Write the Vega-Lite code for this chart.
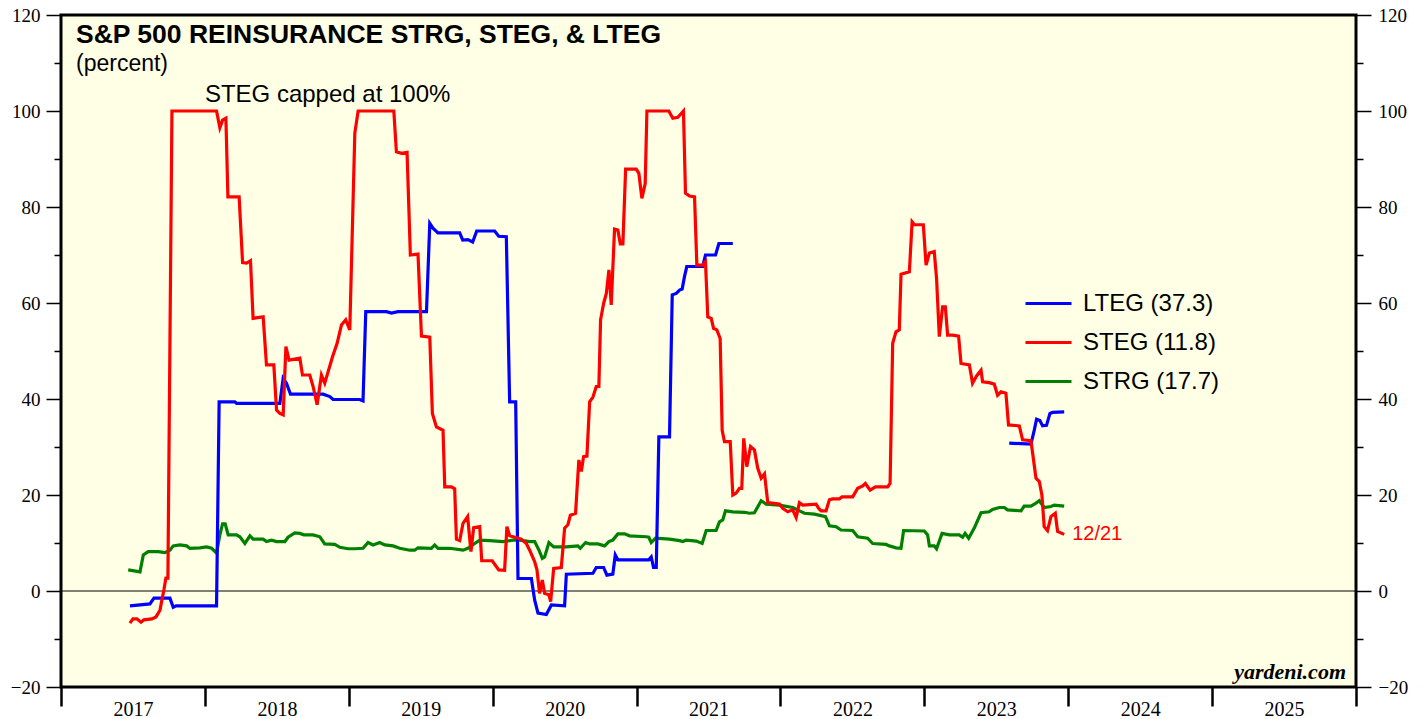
{
"$schema": "https://vega.github.io/schema/vega-lite/v6.json",
"width": 1295, "height": 672,
"autosize": {"type": "none"},
"padding": {"left": 61, "top": 15, "right": 69, "bottom": 32},
"background": "white",
"title": {"text": "S&P 500 REINSURANCE STRG, STEG, & LTEG", "subtitle": "(percent)", "anchor": "start", "frame": "group", "offset": -70, "dx": 15, "font": "Liberation Sans", "fontSize": 26.5, "fontWeight": "bold", "color": "black", "subtitleFont": "Liberation Sans", "subtitleFontSize": 23, "subtitleColor": "black", "subtitlePadding": 5},
"datasets": {
"steg": [{"t":2017.479,"v":-6.7},{"t":2017.500,"v":-5.8},{"t":2017.528,"v":-5.8},{"t":2017.556,"v":-6.5},{"t":2017.576,"v":-6.0},{"t":2017.632,"v":-5.8},{"t":2017.660,"v":-5.4},{"t":2017.688,"v":-4.0},{"t":2017.701,"v":-1.9},{"t":2017.715,"v":0.2},{"t":2017.729,"v":2.7},{"t":2017.743,"v":2.7},{"t":2017.771,"v":100},{"t":2018.081,"v":100},{"t":2018.104,"v":96.5},{"t":2018.123,"v":98.1},{"t":2018.146,"v":98.5},{"t":2018.160,"v":82.1},{"t":2018.238,"v":82.1},{"t":2018.262,"v":68.4},{"t":2018.290,"v":68.3},{"t":2018.317,"v":68.8},{"t":2018.335,"v":56.8},{"t":2018.405,"v":57.1},{"t":2018.428,"v":47.1},{"t":2018.479,"v":47.1},{"t":2018.498,"v":37.7},{"t":2018.521,"v":37.0},{"t":2018.544,"v":36.7},{"t":2018.563,"v":50.9},{"t":2018.585,"v":48.1},{"t":2018.660,"v":48.5},{"t":2018.678,"v":45.0},{"t":2018.729,"v":45.0},{"t":2018.752,"v":42.6},{"t":2018.780,"v":38.8},{"t":2018.810,"v":45.0},{"t":2018.833,"v":43.3},{"t":2018.887,"v":48.8},{"t":2018.919,"v":51.6},{"t":2018.949,"v":55.4},{"t":2018.979,"v":56.5},{"t":2019.007,"v":54.4},{"t":2019.042,"v":95.4},{"t":2019.065,"v":100},{"t":2019.313,"v":100},{"t":2019.331,"v":91.5},{"t":2019.366,"v":91.2},{"t":2019.405,"v":91.4},{"t":2019.428,"v":70.0},{"t":2019.481,"v":70.2},{"t":2019.505,"v":53.1},{"t":2019.563,"v":52.9},{"t":2019.581,"v":37.0},{"t":2019.609,"v":34.2},{"t":2019.655,"v":33.5},{"t":2019.667,"v":21.7},{"t":2019.713,"v":21.7},{"t":2019.736,"v":21.3},{"t":2019.748,"v":10.8},{"t":2019.771,"v":10.5},{"t":2019.794,"v":14.1},{"t":2019.826,"v":15.5},{"t":2019.849,"v":8.2},{"t":2019.868,"v":13.2},{"t":2019.910,"v":13.4},{"t":2019.924,"v":6.3},{"t":2019.997,"v":6.3},{"t":2020.042,"v":4.4},{"t":2020.083,"v":4.3},{"t":2020.099,"v":13.4},{"t":2020.118,"v":11.5},{"t":2020.199,"v":10.8},{"t":2020.234,"v":9.9},{"t":2020.257,"v":8.5},{"t":2020.292,"v":6.1},{"t":2020.308,"v":4.4},{"t":2020.326,"v":-0.5},{"t":2020.345,"v":2.3},{"t":2020.361,"v":-0.5},{"t":2020.391,"v":-0.8},{"t":2020.403,"v":-2.2},{"t":2020.424,"v":4.7},{"t":2020.477,"v":4.9},{"t":2020.500,"v":13.1},{"t":2020.523,"v":13.8},{"t":2020.540,"v":15.8},{"t":2020.576,"v":16.2},{"t":2020.599,"v":27.3},{"t":2020.616,"v":24.9},{"t":2020.632,"v":28.0},{"t":2020.655,"v":28.1},{"t":2020.674,"v":39.4},{"t":2020.697,"v":40.4},{"t":2020.720,"v":42.6},{"t":2020.738,"v":42.6},{"t":2020.750,"v":56.5},{"t":2020.771,"v":59.9},{"t":2020.790,"v":62.0},{"t":2020.808,"v":66.9},{"t":2020.824,"v":59.6},{"t":2020.847,"v":75.4},{"t":2020.870,"v":75.2},{"t":2020.887,"v":72.3},{"t":2020.905,"v":72.3},{"t":2020.924,"v":87.9},{"t":2020.998,"v":87.9},{"t":2021.016,"v":87.0},{"t":2021.037,"v":81.8},{"t":2021.060,"v":84.9},{"t":2021.072,"v":100},{"t":2021.224,"v":100},{"t":2021.252,"v":98.5},{"t":2021.287,"v":98.7},{"t":2021.326,"v":100},{"t":2021.340,"v":82.9},{"t":2021.368,"v":82.3},{"t":2021.403,"v":82.1},{"t":2021.419,"v":67.9},{"t":2021.460,"v":67.9},{"t":2021.479,"v":68.6},{"t":2021.495,"v":57.1},{"t":2021.519,"v":56.8},{"t":2021.535,"v":54.7},{"t":2021.558,"v":54.4},{"t":2021.581,"v":52.6},{"t":2021.595,"v":33.5},{"t":2021.611,"v":31.1},{"t":2021.651,"v":31.1},{"t":2021.669,"v":20.0},{"t":2021.692,"v":20.4},{"t":2021.715,"v":21.4},{"t":2021.731,"v":21.4},{"t":2021.745,"v":31.8},{"t":2021.766,"v":25.9},{"t":2021.792,"v":30.1},{"t":2021.819,"v":29.4},{"t":2021.842,"v":25.6},{"t":2021.866,"v":23.5},{"t":2021.889,"v":24.4},{"t":2021.912,"v":18.4},{"t":2021.993,"v":18.1},{"t":2022.016,"v":17.2},{"t":2022.051,"v":16.5},{"t":2022.085,"v":16.9},{"t":2022.109,"v":15.3},{"t":2022.132,"v":18.4},{"t":2022.155,"v":17.9},{"t":2022.248,"v":18.1},{"t":2022.266,"v":17.2},{"t":2022.283,"v":16.7},{"t":2022.317,"v":16.7},{"t":2022.340,"v":19.0},{"t":2022.363,"v":19.2},{"t":2022.410,"v":19.2},{"t":2022.428,"v":19.6},{"t":2022.502,"v":19.6},{"t":2022.537,"v":21.4},{"t":2022.572,"v":21.9},{"t":2022.590,"v":22.4},{"t":2022.623,"v":21.0},{"t":2022.660,"v":21.7},{"t":2022.745,"v":21.7},{"t":2022.762,"v":22.4},{"t":2022.780,"v":51.6},{"t":2022.803,"v":54.0},{"t":2022.826,"v":54.4},{"t":2022.838,"v":66.0},{"t":2022.896,"v":66.5},{"t":2022.915,"v":76.9},{"t":2022.931,"v":76.3},{"t":2022.993,"v":76.3},{"t":2023.012,"v":67.9},{"t":2023.035,"v":70.4},{"t":2023.069,"v":70.7},{"t":2023.085,"v":65.1},{"t":2023.104,"v":53.0},{"t":2023.127,"v":59.2},{"t":2023.146,"v":59.2},{"t":2023.162,"v":53.3},{"t":2023.197,"v":53.3},{"t":2023.238,"v":53.1},{"t":2023.255,"v":47.4},{"t":2023.313,"v":47.1},{"t":2023.335,"v":43.3},{"t":2023.363,"v":44.8},{"t":2023.394,"v":46.0},{"t":2023.405,"v":43.6},{"t":2023.451,"v":43.4},{"t":2023.486,"v":43.1},{"t":2023.509,"v":40.8},{"t":2023.533,"v":41.5},{"t":2023.567,"v":41.2},{"t":2023.585,"v":34.6},{"t":2023.660,"v":34.4},{"t":2023.683,"v":31.5},{"t":2023.741,"v":31.3},{"t":2023.776,"v":23.5},{"t":2023.799,"v":22.8},{"t":2023.817,"v":20.0},{"t":2023.833,"v":13.4},{"t":2023.856,"v":12.6},{"t":2023.880,"v":15.5},{"t":2023.910,"v":16.2},{"t":2023.926,"v":12.4},{"t":2023.972,"v":11.8}],
"lteg1": [{"t":2017.479,"v":-3.1},{"t":2017.618,"v":-2.7},{"t":2017.646,"v":-1.5},{"t":2017.757,"v":-1.5},{"t":2017.780,"v":-3.4},{"t":2017.799,"v":-3.1},{"t":2018.081,"v":-3.1},{"t":2018.099,"v":39.4},{"t":2018.208,"v":39.4},{"t":2018.220,"v":39.1},{"t":2018.521,"v":39.1},{"t":2018.544,"v":44.3},{"t":2018.567,"v":43.3},{"t":2018.595,"v":41.0},{"t":2018.822,"v":41.0},{"t":2018.868,"v":40.5},{"t":2018.891,"v":39.9},{"t":2019.076,"v":39.9},{"t":2019.099,"v":39.6},{"t":2019.118,"v":58.2},{"t":2019.262,"v":58.2},{"t":2019.297,"v":57.9},{"t":2019.342,"v":58.2},{"t":2019.540,"v":58.2},{"t":2019.563,"v":76.6},{"t":2019.585,"v":75.6},{"t":2019.620,"v":74.6},{"t":2019.771,"v":74.6},{"t":2019.792,"v":73.1},{"t":2019.828,"v":73.2},{"t":2019.861,"v":72.7},{"t":2019.889,"v":75.0},{"t":2020.014,"v":75.0},{"t":2020.042,"v":73.9},{"t":2020.095,"v":73.8},{"t":2020.118,"v":39.4},{"t":2020.160,"v":39.4},{"t":2020.176,"v":2.6},{"t":2020.269,"v":2.6},{"t":2020.292,"v":-1.9},{"t":2020.315,"v":-4.6},{"t":2020.373,"v":-4.9},{"t":2020.408,"v":-2.9},{"t":2020.500,"v":-3.1},{"t":2020.512,"v":3.5},{"t":2020.697,"v":3.7},{"t":2020.720,"v":4.9},{"t":2020.771,"v":4.9},{"t":2020.794,"v":3.3},{"t":2020.835,"v":3.5},{"t":2020.852,"v":7.5},{"t":2020.870,"v":6.5},{"t":2021.085,"v":6.5},{"t":2021.102,"v":7.1},{"t":2021.118,"v":4.9},{"t":2021.137,"v":4.9},{"t":2021.155,"v":32.1},{"t":2021.229,"v":32.1},{"t":2021.248,"v":61.7},{"t":2021.276,"v":62.0},{"t":2021.299,"v":62.7},{"t":2021.317,"v":62.9},{"t":2021.333,"v":65.5},{"t":2021.349,"v":67.6},{"t":2021.460,"v":67.6},{"t":2021.479,"v":70.0},{"t":2021.549,"v":70.0},{"t":2021.572,"v":72.4},{"t":2021.669,"v":72.4}],
"lteg2": [{"t":2023.590,"v":30.8},{"t":2023.741,"v":30.6},{"t":2023.764,"v":33.5},{"t":2023.780,"v":35.8},{"t":2023.803,"v":35.5},{"t":2023.822,"v":34.4},{"t":2023.849,"v":34.5},{"t":2023.873,"v":37.0},{"t":2023.891,"v":37.2},{"t":2023.972,"v":37.3}],
"strg": [{"t":2017.467,"v":4.4},{"t":2017.549,"v":4.0},{"t":2017.572,"v":7.5},{"t":2017.606,"v":8.2},{"t":2017.676,"v":8.2},{"t":2017.722,"v":8.0},{"t":2017.757,"v":8.5},{"t":2017.780,"v":9.4},{"t":2017.826,"v":9.6},{"t":2017.873,"v":9.4},{"t":2017.896,"v":8.9},{"t":2017.965,"v":9.0},{"t":2018.012,"v":9.2},{"t":2018.047,"v":8.9},{"t":2018.081,"v":7.9},{"t":2018.104,"v":11.7},{"t":2018.123,"v":14.0},{"t":2018.141,"v":14.0},{"t":2018.162,"v":11.7},{"t":2018.220,"v":11.7},{"t":2018.243,"v":11.3},{"t":2018.278,"v":9.9},{"t":2018.313,"v":11.5},{"t":2018.335,"v":10.8},{"t":2018.405,"v":10.8},{"t":2018.428,"v":10.3},{"t":2018.463,"v":10.6},{"t":2018.498,"v":10.3},{"t":2018.556,"v":10.3},{"t":2018.578,"v":11.2},{"t":2018.625,"v":12.1},{"t":2018.660,"v":12.0},{"t":2018.688,"v":11.7},{"t":2018.752,"v":11.7},{"t":2018.799,"v":11.3},{"t":2018.833,"v":9.8},{"t":2018.903,"v":9.7},{"t":2018.938,"v":9.1},{"t":2018.995,"v":8.8},{"t":2019.042,"v":8.8},{"t":2019.099,"v":8.9},{"t":2019.134,"v":10.1},{"t":2019.169,"v":9.6},{"t":2019.215,"v":10.1},{"t":2019.250,"v":9.6},{"t":2019.308,"v":9.4},{"t":2019.354,"v":8.9},{"t":2019.424,"v":8.5},{"t":2019.458,"v":8.5},{"t":2019.481,"v":9.0},{"t":2019.574,"v":8.9},{"t":2019.597,"v":9.6},{"t":2019.620,"v":8.9},{"t":2019.701,"v":8.9},{"t":2019.794,"v":8.5},{"t":2019.828,"v":8.9},{"t":2019.875,"v":9.9},{"t":2019.910,"v":10.6},{"t":2019.979,"v":10.5},{"t":2020.072,"v":10.3},{"t":2020.141,"v":10.6},{"t":2020.188,"v":10.6},{"t":2020.257,"v":10.3},{"t":2020.292,"v":10.3},{"t":2020.322,"v":8.5},{"t":2020.345,"v":6.8},{"t":2020.361,"v":7.1},{"t":2020.391,"v":10.1},{"t":2020.424,"v":9.2},{"t":2020.512,"v":9.2},{"t":2020.592,"v":9.4},{"t":2020.609,"v":8.9},{"t":2020.646,"v":10.1},{"t":2020.674,"v":9.8},{"t":2020.731,"v":9.8},{"t":2020.778,"v":9.4},{"t":2020.808,"v":10.3},{"t":2020.835,"v":10.6},{"t":2020.870,"v":11.9},{"t":2020.917,"v":11.9},{"t":2020.951,"v":11.5},{"t":2021.067,"v":11.3},{"t":2021.085,"v":11.2},{"t":2021.102,"v":10.1},{"t":2021.132,"v":11.0},{"t":2021.229,"v":10.8},{"t":2021.299,"v":10.5},{"t":2021.322,"v":10.3},{"t":2021.345,"v":10.6},{"t":2021.415,"v":10.4},{"t":2021.456,"v":9.9},{"t":2021.484,"v":12.6},{"t":2021.553,"v":12.6},{"t":2021.576,"v":14.4},{"t":2021.599,"v":14.8},{"t":2021.618,"v":16.7},{"t":2021.669,"v":16.5},{"t":2021.750,"v":16.4},{"t":2021.785,"v":16.2},{"t":2021.819,"v":16.3},{"t":2021.866,"v":18.8},{"t":2021.901,"v":18.1},{"t":2021.993,"v":17.9},{"t":2022.085,"v":17.4},{"t":2022.132,"v":16.7},{"t":2022.167,"v":16.2},{"t":2022.236,"v":16.0},{"t":2022.313,"v":15.5},{"t":2022.340,"v":13.6},{"t":2022.387,"v":13.4},{"t":2022.421,"v":12.7},{"t":2022.502,"v":12.6},{"t":2022.537,"v":11.3},{"t":2022.606,"v":11.0},{"t":2022.641,"v":9.9},{"t":2022.734,"v":9.7},{"t":2022.757,"v":9.4},{"t":2022.803,"v":9.0},{"t":2022.838,"v":8.9},{"t":2022.856,"v":12.6},{"t":2023.000,"v":12.5},{"t":2023.023,"v":11.7},{"t":2023.035,"v":9.4},{"t":2023.069,"v":9.4},{"t":2023.085,"v":8.8},{"t":2023.123,"v":12.0},{"t":2023.174,"v":11.7},{"t":2023.243,"v":11.7},{"t":2023.266,"v":11.2},{"t":2023.283,"v":12.0},{"t":2023.308,"v":11.0},{"t":2023.347,"v":13.1},{"t":2023.394,"v":16.3},{"t":2023.451,"v":16.5},{"t":2023.474,"v":17.0},{"t":2023.521,"v":17.4},{"t":2023.556,"v":17.4},{"t":2023.578,"v":16.9},{"t":2023.672,"v":16.7},{"t":2023.694,"v":17.7},{"t":2023.741,"v":17.7},{"t":2023.776,"v":18.3},{"t":2023.799,"v":18.8},{"t":2023.833,"v":17.4},{"t":2023.880,"v":17.6},{"t":2023.903,"v":17.9},{"t":2023.972,"v":17.7}]
},
"layer": [
{"data": {"values": [{"v": 0}]}, "mark": {"type": "rule", "color": "black", "strokeWidth": 1},
 "encoding": {"y": {"field": "v", "type": "quantitative", "scale": {"domain": [-20, 120], "nice": false, "zero": false},
  "axis": {"orient": "right", "values": [-20,0,20,40,60,80,100,120], "title": null, "domain": false, "grid": false, "tickSize": 15, "tickWidth": 1.5, "tickColor": "black", "labelFont": "Liberation Serif", "labelFontSize": 19, "labelColor": "black", "labelPadding": 7, "labelFlush": false, "labelOverlap": false}}}},
{"data": {"name": "strg"}, "mark": {"type": "line", "strokeWidth": 3.2},
 "encoding": {
  "x": {"field": "t", "type": "quantitative", "scale": {"domain": [2017, 2026], "nice": false, "zero": false},
   "axis": {"orient": "bottom", "values": [2017,2018,2019,2020,2021,2022,2023,2024,2025,2026], "format": "d", "labelExpr": "datum.value < 2026 ? datum.label : ''", "title": null, "domain": false, "grid": false, "tickSize": 19, "tickWidth": 2.5, "tickColor": "black", "labelFont": "Liberation Serif", "labelFontSize": 20, "labelColor": "black", "labelOffset": 72, "labelPadding": -7, "labelFlush": false, "labelOverlap": false, "labelBound": false}},
  "y": {"field": "v", "type": "quantitative", "scale": {"domain": [-20, 120], "nice": false, "zero": false},
   "axis": {"orient": "left", "values": [-20,0,20,40,60,80,100,120], "title": null, "domain": false, "grid": false, "tickSize": 15, "tickWidth": 1.5, "tickColor": "black", "labelFont": "Liberation Serif", "labelFontSize": 19, "labelColor": "black", "labelPadding": 6, "labelFlush": false, "labelOverlap": false}},
  "color": {"datum": "STRG (17.7)", "scale": {"domain": ["LTEG (37.3)", "STEG (11.8)", "STRG (17.7)"], "range": ["#0000ff", "#ff0000", "#008000"]},
   "legend": {"orient": "none", "legendX": 963, "legendY": 264, "direction": "vertical", "title": null}}}},
{"data": {"name": "lteg1"}, "mark": {"type": "line", "strokeWidth": 3.2},
 "encoding": {
  "x": {"field": "t", "type": "quantitative", "axis": null},
  "y": {"field": "v", "type": "quantitative", "axis": {"orient": "left", "values": [-10,10,30,50,70,90,110], "title": null, "domain": false, "grid": false, "labels": false, "tickSize": 7, "tickWidth": 1.5, "tickColor": "black"}},
  "color": {"datum": "LTEG (37.3)"}}},
{"data": {"name": "lteg2"}, "mark": {"type": "line", "strokeWidth": 3.2},
 "encoding": {
  "x": {"field": "t", "type": "quantitative", "axis": null},
  "y": {"field": "v", "type": "quantitative", "axis": {"orient": "right", "values": [-10,10,30,50,70,90,110], "title": null, "domain": false, "grid": false, "labels": false, "tickSize": 7, "tickWidth": 1.5, "tickColor": "black"}},
  "color": {"datum": "LTEG (37.3)"}}},
{"data": {"name": "steg"}, "mark": {"type": "line", "strokeWidth": 3.2},
 "encoding": {
  "x": {"field": "t", "type": "quantitative", "axis": null},
  "y": {"field": "v", "type": "quantitative", "axis": null},
  "color": {"datum": "STEG (11.8)"}}},
{"data": {"values": [{"t": 2018.0, "v": 101.9, "label": "STEG capped at 100%"}]},
 "mark": {"type": "text", "align": "left", "baseline": "alphabetic", "font": "Liberation Sans", "fontSize": 24, "color": "black"},
 "encoding": {"x": {"field": "t", "type": "quantitative", "axis": null}, "y": {"field": "v", "type": "quantitative", "axis": null}, "text": {"field": "label"}}},
{"data": {"values": [{"t": 2023.972, "v": 11.8, "label": "12/21"}]},
 "mark": {"type": "text", "align": "left", "baseline": "middle", "dx": 8, "font": "Liberation Sans", "fontSize": 20, "color": "#ff0000"},
 "encoding": {"x": {"field": "t", "type": "quantitative", "axis": null}, "y": {"field": "v", "type": "quantitative", "axis": null}, "text": {"field": "label"}}},
{"data": {"values": [{"label": "yardeni.com"}]},
 "mark": {"type": "text", "align": "right", "baseline": "alphabetic", "dx": -10, "dy": -8, "font": "Liberation Serif", "fontSize": 22, "fontWeight": "bold", "fontStyle": "italic", "color": "black"},
 "encoding": {"x": {"datum": 2026, "type": "quantitative", "axis": null}, "y": {"datum": -20, "type": "quantitative", "axis": null}, "text": {"field": "label"}}}
],
"resolve": {"axis": {"x": "independent", "y": "independent"}},
"config": {
 "view": {"stroke": "black", "strokeWidth": 3, "fill": "#FFFFE6"},
 "legend": {"symbolType": "stroke", "symbolSize": 2116, "symbolStrokeWidth": 3, "labelFont": "Liberation Sans", "labelFontSize": 24, "labelColor": "black", "labelOffset": 10, "rowPadding": 2, "padding": 0, "labelLimit": 0}
}
}
